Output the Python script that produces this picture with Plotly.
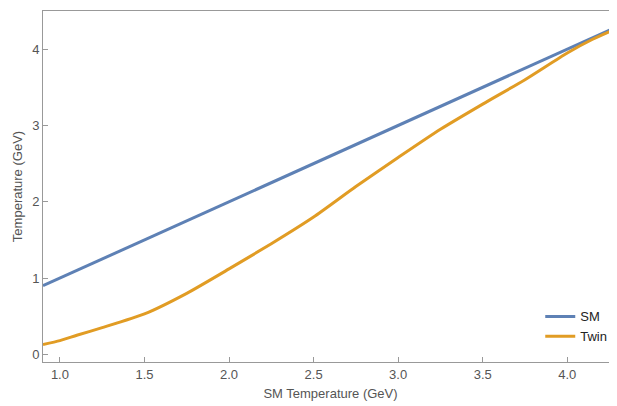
import plotly.graph_objects as go

sm_x = [0.9, 4.3]
sm_y = [0.9, 4.3]
twin_x = [0.9, 1.0, 1.1, 1.25, 1.5, 1.75, 2.0, 2.25, 2.5, 2.75, 3.0, 3.25, 3.5, 3.75, 4.0, 4.15, 4.3]
twin_y = [0.13, 0.18, 0.25, 0.35, 0.53, 0.8, 1.12, 1.45, 1.8, 2.2, 2.58, 2.95, 3.28, 3.6, 3.95, 4.13, 4.28]

fig = go.Figure()
fig.add_trace(go.Scatter(x=sm_x, y=sm_y, mode="lines", name="SM", line=dict(color="#5E81B5", width=3)))
fig.add_trace(go.Scatter(x=twin_x, y=twin_y, mode="lines", name="Twin", line=dict(color="#E19C24", width=3, shape="spline", smoothing=0.6)))

ax = dict(showgrid=False, zeroline=False, showline=True, mirror=True, linecolor="#999", linewidth=1,
          ticks="inside", tickcolor="#999", ticklen=5, tickfont=dict(size=13, color="#555"),
          title_font=dict(size=13, color="#555"))
fig.update_layout(
    width=617, height=406, plot_bgcolor="white", paper_bgcolor="white",
    font=dict(family="Liberation Sans"),
    margin=dict(l=35, r=7, t=3, b=52),
    xaxis=dict(range=[0.9, 4.3], tickvals=[1.0,1.5,2.0,2.5,3.0,3.5,4.0], ticktext=["1.0","1.5","2.0","2.5","3.0","3.5","4.0"],
               title=dict(text="SM Temperature (GeV)", standoff=8), **ax),
    yaxis=dict(range=[-0.1, 4.5], tickvals=[0,1,2,3,4], title=dict(text="Temperature (GeV)", standoff=6), **ax),
    legend=dict(x=0.99, y=0.03, xanchor="right", yanchor="bottom", bgcolor="rgba(0,0,0,0)", font=dict(size=13, color="#222")),
)
fig.write_html("out.html")
